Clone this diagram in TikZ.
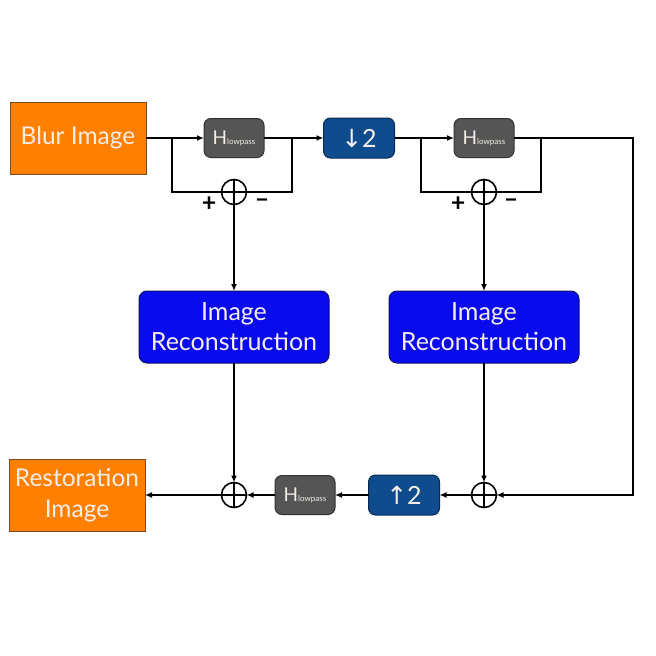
\documentclass[tikz,border=0pt]{standalone}
\usepackage{fontspec}
\setmainfont{Lato}
\newfontfamily\arrowfont{DejaVu Sans}
\usetikzlibrary{arrows.meta}
\definecolor{orangefill}{HTML}{FF8000}
\definecolor{orangedraw}{HTML}{7A4A20}
\definecolor{hfill}{HTML}{555555}
\definecolor{hdraw}{HTML}{333333}
\definecolor{navyfill}{HTML}{0E4C8E}
\definecolor{navydraw}{HTML}{0A2A55}
\definecolor{bluefill}{HTML}{0A0AEE}
\definecolor{bluedraw}{HTML}{10106A}
\definecolor{txt}{HTML}{F4EEE6}
\begin{document}
\begin{tikzpicture}[x=1pt,y=-1pt,
  every node/.style={inner sep=0pt, outer sep=0pt},
  srcbox/.style={draw=orangedraw, line width=1pt, fill=orangefill, minimum width=136pt, minimum height=72pt, text=txt, font=\fontsize{24.5}{31}\selectfont, align=center},
  hbox/.style={draw=hdraw, line width=1pt, fill=hfill, rounded corners=7pt, minimum width=60pt, minimum height=39pt, text=txt},
  sbox/.style={draw=navydraw, line width=1pt, fill=navyfill, rounded corners=7pt, minimum width=71pt, minimum height=40pt, text=txt, font=\fontsize{25}{25}\selectfont},
  irbox/.style={draw=bluedraw, line width=1pt, fill=bluefill, rounded corners=8pt, minimum width=190pt, minimum height=72pt, text=txt, font=\fontsize{25}{30}\selectfont, align=center},
  sumnode/.style={circle, draw, line width=1.6pt, minimum size=25pt,
    path picture={\draw[line width=1.6pt] (path picture bounding box.north) -- (path picture bounding box.south) (path picture bounding box.west) -- (path picture bounding box.east);}},
  sign/.style={font=\fontsize{25}{25}\selectfont\bfseries},
  wire/.style={line width=1.6pt},
  arr/.style={line width=1.6pt, -{Latex[length=7pt,width=6pt]}}
]
\useasboundingbox[fill=white] (0,0) rectangle (656,656);

\newcommand{\hlow}{H{\fontsize{8}{8}\selectfont lowpass}}

\node[srcbox] (blur) at (78,138) {Blur Image};
\node[hbox] (h1) at (234,138) {\fontsize{19}{19}\selectfont\hlow};
\node[sbox] (down) at (359,138) {{\arrowfont ↓}2};
\node[hbox] (h2) at (484,138) {\fontsize{19}{19}\selectfont\hlow};
\node[sumnode] (s1) at (234,192) {};
\node[sumnode] (s2) at (484,192) {};
\node[sign] (p1) at (209,204) {+};
\node[sign] (m1) at (262,203) {–};
\node[sign] (p2) at (458,204) {+};
\node[sign] (m2) at (511,203) {–};
\node[irbox] (ir1) at (234,327) {Image\\Reconstruction};
\node[irbox] (ir2) at (484,327) {Image\\Reconstruction};
\node[srcbox] (rest) at (77,495) {Restoration\\Image};
\node[sumnode] (s3) at (234,495) {};
\node[hbox] (h3) at (305,495) {\fontsize{19}{19}\selectfont\hlow};
\node[sbox] (up) at (404,495) {{\arrowfont ↑}2};
\node[sumnode] (s4) at (484,495) {};

\coordinate (a1) at (172,138);
\coordinate (b1) at (292,138);
\coordinate (a2) at (421,138);
\coordinate (b2) at (541,138);
\coordinate (c) at (633,138);

\draw[arr] (blur.east) -- (h1.west);
\draw[wire] (a1) |- (s1.west);
\draw[arr] (h1.east) -- (down.west);
\draw[wire] (b1) |- (s1.east);
\draw[arr] (down.east) -- (h2.west);
\draw[wire] (a2) |- (s2.west);
\draw[wire] (b2) |- (s2.east);
\draw[arr] (h2.east) -- (c) |- (s4.east);
\draw[arr] (s1.south) -- (ir1.north);
\draw[arr] (s2.south) -- (ir2.north);
\draw[arr] (ir1.south) -- (s3.north);
\draw[arr] (ir2.south) -- (s4.north);
\draw[arr] (s4.west) -- (up.east);
\draw[arr] (up.west) -- (h3.east);
\draw[arr] (h3.west) -- (s3.east);
\draw[arr] (s3.west) -- (rest.east);
\end{tikzpicture}
\end{document}
